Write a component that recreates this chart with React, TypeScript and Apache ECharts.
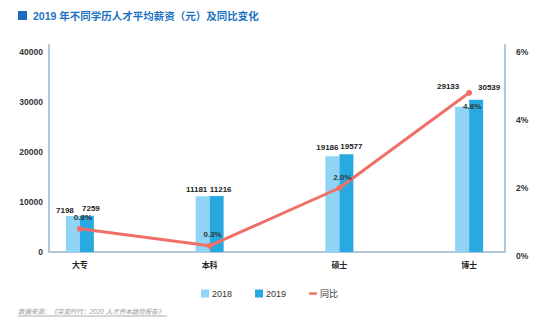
import React, { useEffect, useRef } from "react";
import * as echarts from "echarts";

const categories = ["大专", "本科", "硕士", "博士"];
const salary2018 = [7198, 11181, 19186, 29133];
const salary2019 = [7259, 11216, 19577, 30539];
const yoy = [0.8, 0.3, 2.0, 4.8];
const leftTicks = { min: 0, max: 41500, interval: 10000 };
const rightTicks = { min: 0, max: 6, interval: 2 };
const seriesNames = ["2018", "2019", "同比"];
const titleText = "2019 年不同学历人才平均薪资（元）及同比变化";
const sourceText = "数据来源：《突变时代：2020 人才资本趋势报告》";

// label nudges (style, not data)
const offsets2018 = [[-8, 1], [-6, 0], [-5, -2], [-14, -13]];
const offsets2019 = [[4, 0], [4, 0], [5, -1], [13, -5]];
const linePosBelow = [false, false, false, true];

const FONT = '"Liberation Sans", Arial, "Noto Sans CJK SC", sans-serif';
const FRAME = "#b3c6d8";

export default function App() {
  const ref = useRef<HTMLDivElement>(null);
  useEffect(() => {
    if (!ref.current) return;
    const chart = echarts.init(ref.current, null, { renderer: "svg" });
    const barLabel = {
      show: true,
      position: "top",
      distance: 3,
      fontSize: 8,
      fontWeight: "bold",
      color: "#222",
      fontFamily: FONT,
    };
    chart.setOption({
      animation: false,
      textStyle: { fontFamily: FONT },
      grid: [
        { left: 49, right: 52, top: 45, bottom: 75 },
        { left: 15, right: 23, top: 45, bottom: 75 },
        { left: 15, right: 23, top: 52, bottom: 71 },
      ],
      xAxis: [
        {
          gridIndex: 0,
          type: "category",
          data: categories,
          axisLine: { show: true, lineStyle: { color: FRAME, width: 2 } },
          axisTick: { show: false },
          axisLabel: { show: false },
        },
        {
          gridIndex: 1,
          type: "category",
          data: categories,
          axisLine: { show: false },
          axisTick: { show: false },
          axisLabel: {
            margin: 9,
            fontSize: 8,
            fontWeight: "bold",
            color: "#222",
            fontFamily: FONT,
          },
        },
        {
          gridIndex: 2,
          type: "category",
          data: categories,
          show: false,
        },
      ],
      yAxis: [
        {
          gridIndex: 0,
          type: "value",
          position: "left",
          ...leftTicks,
          axisLine: { show: true, lineStyle: { color: FRAME, width: 2 } },
          axisTick: { show: false },
          splitLine: { show: false },
          axisLabel: {
            showMaxLabel: false,
            margin: 6,
            formatter: (v: number) => String(v),
            fontSize: 8.5,
            fontWeight: "bold",
            color: "#333",
            fontFamily: FONT,
          },
        },
        {
          gridIndex: 0,
          type: "value",
          position: "right",
          ...leftTicks,
          axisLine: { show: true, lineStyle: { color: FRAME, width: 2 } },
          axisTick: { show: false },
          splitLine: { show: false },
          axisLabel: { show: false },
        },
        {
          gridIndex: 1,
          type: "value",
          ...leftTicks,
          show: false,
        },
        {
          gridIndex: 2,
          type: "value",
          position: "right",
          offset: -18,
          ...rightTicks,
          axisLine: { show: false },
          axisTick: { show: false },
          splitLine: { show: false },
          axisLabel: {
            margin: 0,
            formatter: "{value}%",
            fontSize: 8.5,
            fontWeight: "bold",
            color: "#333",
            fontFamily: FONT,
          },
        },
      ],
      legend: {
        left: 196,
        top: 284,
        itemWidth: 8,
        itemHeight: 8,
        itemGap: 23,
        textStyle: { fontSize: 9, color: "#333", fontFamily: FONT, padding: [0, 0, 0, -2] },
        data: [
          { name: seriesNames[0], icon: "rect" },
          { name: seriesNames[1], icon: "rect" },
          { name: seriesNames[2], icon: "path://M0,0h10v3h-10z" },
        ],
      },
      series: [
        {
          name: seriesNames[0],
          type: "bar",
          xAxisIndex: 1,
          yAxisIndex: 2,
          barWidth: 14,
          barGap: "0%",
          itemStyle: { color: "#8fd4f4" },
          data: salary2018.map((v, i) => ({
            value: v,
            label: { ...barLabel, offset: offsets2018[i] },
          })),
        },
        {
          name: seriesNames[1],
          type: "bar",
          xAxisIndex: 1,
          yAxisIndex: 2,
          barWidth: 14,
          barGap: "0%",
          itemStyle: { color: "#29a9e1" },
          data: salary2019.map((v, i) => ({
            value: v,
            label: { ...barLabel, offset: offsets2019[i] },
          })),
        },
        {
          name: seriesNames[2],
          type: "line",
          xAxisIndex: 2,
          yAxisIndex: 3,
          symbol: "circle",
          symbolSize: 6,
          lineStyle: { color: "#f07068", width: 3 },
          itemStyle: { color: "#f07068" },
          z: 5,
          data: yoy.map((v, i) => ({
            value: v,
            label: {
              show: true,
              position: linePosBelow[i] ? "bottom" : "top",
              distance: linePosBelow[i] ? 7 : 4,
              offset: [3, 0],
              formatter: (p: any) => Number(p.value).toFixed(1) + "%",
              fontSize: 8,
              fontWeight: "bold",
              color: "#333",
              fontFamily: FONT,
            },
          })),
        },
      ],
      graphic: [
        {
          type: "rect",
          shape: { x: 18, y: 11, width: 9, height: 9 },
          style: { fill: "#1a6cbf" },
        },
        {
          type: "text",
          x: 33,
          y: 15.5,
          style: {
            text: titleText,
            fill: "#1b72c1",
            font: `bold 10.5px ${FONT}`,
            verticalAlign: "middle",
          },
        },
        {
          type: "text",
          x: 18,
          y: 311,
          style: {
            text: sourceText,
            fill: "#9a9a9a",
            font: `italic 6.5px ${FONT}`,
            verticalAlign: "middle",
          },
        },
        {
          type: "line",
          shape: { x1: 18, y1: 316, x2: 167, y2: 316 },
          style: { stroke: "#c8c8c8", lineWidth: 1.5 },
        },
      ],
    });
    return () => chart.dispose();
  }, []);
  return (
    <div
      ref={ref}
      style={{ position: "fixed", left: 0, top: 0, width: 557, height: 327, background: "#fff" }}
    />
  );
}
